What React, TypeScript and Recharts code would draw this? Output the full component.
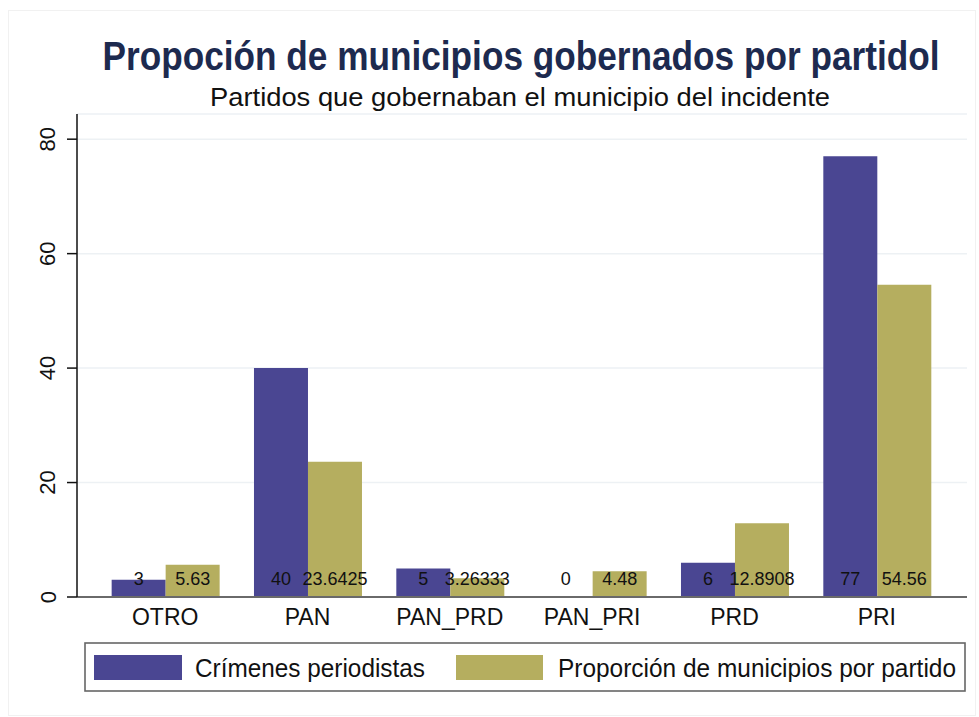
import React from "react";
import { BarChart, Bar, XAxis, YAxis, CartesianGrid, LabelList, Legend } from "recharts";

const categories = ["OTRO", "PAN", "PAN_PRD", "PAN_PRI", "PRD", "PRI"];
const crimenes = [3, 40, 5, 0, 6, 77];
const proporcion = [5.63, 23.6425, 3.26333, 4.48, 12.8908, 54.56];
const yTicks = [0, 20, 40, 60, 80];

const BLUE = "#4a4692";
const OLIVE = "#b5ae5f";
const FONT = "'Liberation Sans', Arial, Helvetica, sans-serif";

const data = categories.map((c, i) => ({
  name: c,
  crimenes: crimenes[i],
  proporcion: proporcion[i],
}));

const ValueLabel = (props: any) => {
  const { x, y, width, height, value } = props;
  const base = Number(y) + Number(height);
  return (
    <text
      x={Number(x) + Number(width) / 2}
      y={base - 18}
      textAnchor="middle"
      dominantBaseline="central"
      fontFamily={FONT}
      fontSize={18}
      fill="#111"
    >
      {String(value)}
    </text>
  );
};

const YTick = (props: any) => {
  const { y, payload } = props;
  return (
    <text
      x={48}
      y={y}
      transform={`rotate(-90 48 ${y})`}
      textAnchor="middle"
      dominantBaseline="central"
      fontFamily={FONT}
      fontSize={22}
      fill="#111"
    >
      {payload.value}
    </text>
  );
};

const XTick = (props: any) => {
  const { x, payload } = props;
  return (
    <text
      x={x}
      y={617}
      textAnchor="middle"
      dominantBaseline="central"
      fontFamily={FONT}
      fontSize={23}
      fill="#111"
    >
      {payload.value}
    </text>
  );
};

// text squeezed horizontally to mimic a condensed face
const Squeezed = (p: {
  x: number; y: number; size: number; width: number; sx: number;
  anchor?: string; bold?: boolean; fill?: string; children: string;
}) => (
  <text
    transform={`translate(${p.x} ${p.y}) scale(${p.sx} 1)`}
    x={0}
    y={0}
    textAnchor={p.anchor || "start"}
    dominantBaseline="central"
    fontFamily={FONT}
    fontWeight={p.bold ? "bold" : "normal"}
    fontSize={p.size}
    fill={p.fill || "#111"}
    textLength={p.width / p.sx}
    lengthAdjust="spacingAndGlyphs"
  >
    {p.children}
  </text>
);

const LegendBox = () => (
  <svg width={882} height={50} style={{ display: "block" }}>
    <rect x={1} y={1} width={880} height={48} fill="#fff" stroke="#666" strokeWidth={1.6} />
    <rect x={10} y={13} width={88} height={25} fill={BLUE} />
    <Squeezed x={111} y={26} size={25} width={230} sx={0.84}>Crímenes periodistas</Squeezed>
    <rect x={372} y={13} width={87} height={25} fill={OLIVE} />
    <Squeezed x={474} y={26} size={25} width={398} sx={0.84}>Proporción de municipios por partido</Squeezed>
  </svg>
);

export default function App() {
  return (
    <div style={{ position: "absolute", left: 0, top: 0, width: 979, height: 717, background: "#fff" }}>
      <div style={{ position: "absolute", left: 8, top: 10, width: 968, height: 706, border: "1px solid #f1f1f1", boxSizing: "border-box" }} />
      <svg width={979} height={120} style={{ position: "absolute", left: 0, top: 0 }}>
        <Squeezed x={521} y={56} size={40} width={837} sx={0.76} anchor="middle" bold fill="#1d2a4f">
          Propoción de municipios gobernados por partidol
        </Squeezed>
        <Squeezed x={520} y={97} size={25} width={620} sx={0.84} anchor="middle">
          Partidos que gobernaban el municipio del incidente
        </Squeezed>
      </svg>
      <div style={{ position: "absolute", left: 0, top: 0 }}>
        <BarChart
          width={979}
          height={717}
          data={data}
          margin={{ top: 114, right: 12, bottom: 80, left: 0 }}
          barCategoryGap="12.4%"
          barGap={0}
        >
          <CartesianGrid horizontal={true} vertical={false} stroke="#edf1f4" strokeWidth={1.5} />
          <XAxis
            dataKey="name"
            height={40}
            tickLine={false}
            axisLine={{ stroke: "#6a6a6a", strokeWidth: 2 }}
            tick={<XTick />}
            padding={{ left: 17, right: 19 }}
            interval={0}
          />
          <YAxis
            width={77}
            domain={[0, 84.4]}
            ticks={yTicks}
            allowDataOverflow
            tickLine={{ stroke: "#111", strokeWidth: 1.5 }}
            tickSize={10}
            axisLine={{ stroke: "#111", strokeWidth: 1.5 }}
            tick={<YTick />}
          />
          <Legend
            verticalAlign="middle"
            layout="horizontal"
            wrapperStyle={{ position: "absolute", left: 84, top: 642, width: 882, height: 50 }}
            content={() => <LegendBox />}
          />
          <Bar dataKey="crimenes" name="Crímenes periodistas" fill={BLUE} minPointSize={0.01} isAnimationActive={false}>
            <LabelList dataKey="crimenes" content={<ValueLabel />} />
          </Bar>
          <Bar dataKey="proporcion" name="Proporción de municipios por partido" fill={OLIVE} isAnimationActive={false}>
            <LabelList dataKey="proporcion" content={<ValueLabel />} />
          </Bar>
        </BarChart>
      </div>
    </div>
  );
}
